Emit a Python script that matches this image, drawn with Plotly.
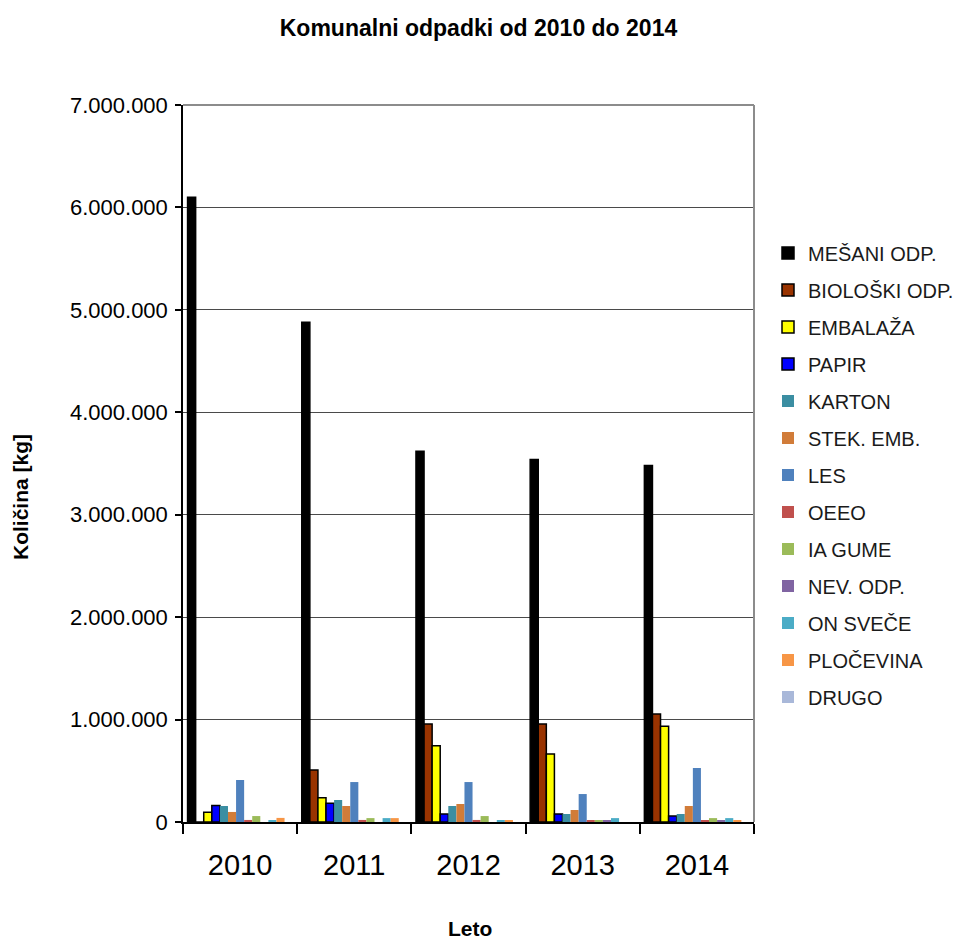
import plotly.graph_objects as go

years = ["2010", "2011", "2012", "2013", "2014"]
series_names = ["MEŠANI ODP.", "BIOLOŠKI ODP.", "EMBALAŽA", "PAPIR", "KARTON",
                "STEK. EMB.", "LES", "OEEO", "IA GUME", "NEV. ODP.",
                "ON SVEČE", "PLOČEVINA", "DRUGO"]

mesani    = [6100000, 4880000, 3620000, 3540000, 3480000]
bioloski  = [0, 508000, 957000, 957000, 1054000]
embalaza  = [95000, 237000, 745000, 664000, 934000]
papir     = [160000, 183000, 78000, 78000, 58000]
karton    = [156000, 215000, 156000, 78000, 78000]
stek_emb  = [98000, 156000, 176000, 117000, 156000]
les       = [410000, 390000, 390000, 273000, 527000]
oeeo      = [20000, 20000, 20000, 18000, 18000]
ia_gume   = [58000, 38000, 58000, 18000, 38000]
nev_odp   = [0, 0, 0, 18000, 18000]
on_svece  = [18000, 38000, 18000, 38000, 38000]
plocevina = [40000, 38000, 18000, 0, 18000]
drugo     = [0, 0, 0, 0, 0]

values = [mesani, bioloski, embalaza, papir, karton, stek_emb, les, oeeo,
          ia_gume, nev_odp, on_svece, plocevina, drugo]
colors = ["#000000", "#993300", "#FFFF00", "#0000FF", "#3B8EA2", "#D17C39",
          "#4F81BD", "#C0504D", "#9BBB59", "#8064A2", "#4BACC6", "#F79646",
          "#A9B8D9"]
outlined = [True, True, True, True] + [False] * 9

FONT = "Liberation Sans, Arial, Helvetica, sans-serif"

# plot area in pixels
L, R, T, B = 183, 754, 105, 822
W, H = 957, 942

def px_x(p):
    return (p - L) / (R - L)

def px_y(p):
    return (B - p) / (B - T)

fig = go.Figure()
for i, (name, vals, col) in enumerate(zip(series_names, values, colors)):
    fig.add_trace(go.Bar(
        x=years, y=vals, name=name, legendgroup=f"g{i}",
        marker=dict(color=col,
                    line=dict(color="#000000", width=1.5 if outlined[i] else 0)),
    ))

fig.update_layout(
    width=W, height=H,
    margin=dict(l=L, r=W - R, t=T, b=H - B, pad=0, autoexpand=False),
    paper_bgcolor="white", plot_bgcolor="white",
    barmode="group", bargap=0.08, bargroupgap=0,
    separators=",.",
    font=dict(family=FONT, color="#000000"),
    title=dict(text="<b>Komunalni odpadki od 2010 do 2014</b>",
               x=0.5, xref="container", xanchor="center",
               y=1 - 28 / H, yref="container", yanchor="middle",
               font=dict(size=23, family=FONT, color="#000000")),
    legend=dict(x=px_x(768), xanchor="left", y=px_y(475), yanchor="middle",
                font=dict(size=20, family=FONT, color="#1a1a1a"),
                itemwidth=30,
                tracegroupgap=8, bgcolor="rgba(0,0,0,0)"),
    showlegend=True,
)

fig.update_xaxes(
    type="category", showline=True, linecolor="#000000", linewidth=1.5,
    ticks="outside", tickson="boundaries", ticklen=10, tickcolor="#000000",
    tickwidth=1.5, tickfont=dict(size=29, family=FONT, color="#000000"),
    ticklabelstandoff=16, showgrid=False, zeroline=False,
)
fig.update_yaxes(
    range=[0, 7000000], dtick=1000000, tickformat=",.0f",
    showline=True, linecolor="#000000", linewidth=1.5,
    ticks="outside", ticklen=6, tickcolor="#000000", tickwidth=1.5,
    tickfont=dict(size=22, family=FONT, color="#000000"),
    ticklabelstandoff=3,
    showgrid=True, gridcolor="#4a4a4a", gridwidth=1, zeroline=False,
)

# top and right frame lines (gray)
fig.add_shape(type="line", xref="paper", yref="paper", x0=0, x1=1, y0=1, y1=1,
              line=dict(color="#8c8c8c", width=2))
fig.add_shape(type="line", xref="paper", yref="paper", x0=1, x1=1, y0=0, y1=1,
              line=dict(color="#8c8c8c", width=2))

# axis titles
fig.add_annotation(text="<b>Količina [kg]</b>", xref="paper", yref="paper",
                   x=px_x(20), y=px_y(497), textangle=-90, showarrow=False,
                   xanchor="center", yanchor="middle",
                   font=dict(size=21, family=FONT, color="#000000"))
fig.add_annotation(text="<b>Leto</b>", xref="paper", yref="paper",
                   x=px_x(470), y=px_y(929), showarrow=False,
                   xanchor="center", yanchor="middle",
                   font=dict(size=21, family=FONT, color="#000000"))

fig.write_html("out.html",
               config={"displayModeBar": False},
               post_script="document.body.style.margin='0';document.body.style.overflow='hidden';")
